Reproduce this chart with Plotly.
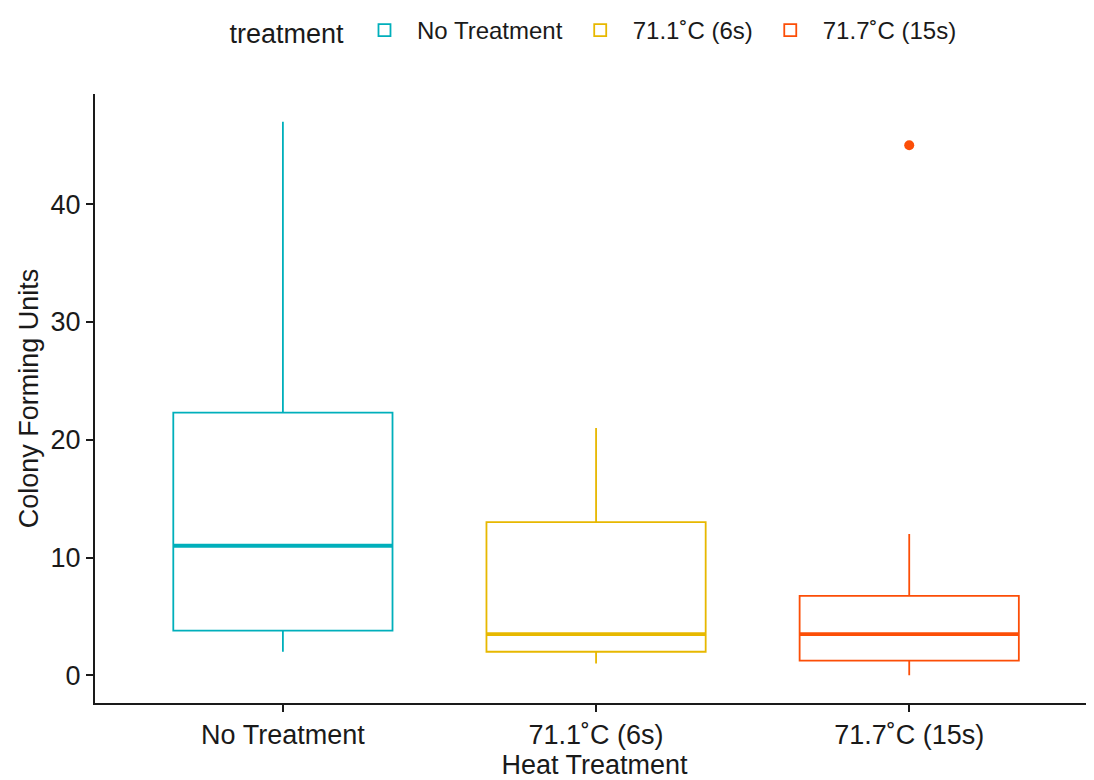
import plotly.graph_objects as go

categories = ["No Treatment", "71.1˚C (6s)", "71.7˚C (15s)"]
q1 = [3.8, 2.0, 1.25]
median = [11.0, 3.5, 3.5]
q3 = [22.3, 13.0, 6.75]
lower = [2.0, 1.0, 0.0]
upper = [47.0, 21.0, 12.0]
outlier_cat = [2]
outlier_val = [45.0]
colors = ["#00AFBB", "#E7B800", "#FC4E07"]
yticks = [0, 10, 20, 30, 40]

BOXW = 0.7
fig = go.Figure()
for i, c in enumerate(categories):
    fig.add_trace(go.Box(
        x=[i], q1=[q1[i]], median=[median[i]], q3=[q3[i]],
        lowerfence=[lower[i]], upperfence=[upper[i]],
        name=c, legendgroup=c, width=BOXW,
        line=dict(color=colors[i], width=1.8),
        fillcolor="rgba(255,255,255,0)", boxpoints=False, whiskerwidth=0,
        hoverinfo="skip",
    ))
    fig.add_trace(go.Scatter(
        x=[i - BOXW / 2, i + BOXW / 2], y=[median[i], median[i]],
        mode="lines", line=dict(color=colors[i], width=3.8),
        showlegend=False, legendgroup=c, hoverinfo="skip",
    ))

fig.add_trace(go.Scatter(
    x=outlier_cat, y=outlier_val, mode="markers",
    marker=dict(color=[colors[k] for k in outlier_cat], size=10),
    showlegend=False, hoverinfo="skip",
))

fig.update_layout(
    width=1086, height=772,
    paper_bgcolor="white", plot_bgcolor="white",
    margin=dict(l=87, r=0, t=86, b=77),
    font=dict(family="Liberation Sans, Arial, sans-serif", color="#1a1a1a"),
    showlegend=True,
    legend=dict(
        orientation="h", x=0.54, xanchor="center", y=1.0, yanchor="top",
        yref="container", xref="container",
        title=dict(text="treatment", font=dict(size=27)),
        font=dict(size=24), itemwidth=55,
    ),
    xaxis=dict(
        range=[-0.6, 2.59], tickmode="array",
        tickvals=list(range(len(categories))), ticktext=categories,
        showline=True, linecolor="#1a1a1a", linewidth=2,
        ticks="outside", ticklen=7, tickcolor="#1a1a1a", tickwidth=1.5,
        showgrid=False, zeroline=False,
        tickfont=dict(size=27),
        title=dict(text="Heat Treatment", font=dict(size=27), standoff=5),
    ),
    yaxis=dict(
        range=[-2.35, 49.35], tickvals=yticks,
        showline=True, linecolor="#1a1a1a", linewidth=2,
        ticks="outside", ticklen=7, tickcolor="#1a1a1a", tickwidth=1.5,
        showgrid=False, zeroline=False,
        tickfont=dict(size=27),
        title=dict(text="Colony Forming Units", font=dict(size=27), standoff=4),
    ),
)
fig.write_html("out.html")
